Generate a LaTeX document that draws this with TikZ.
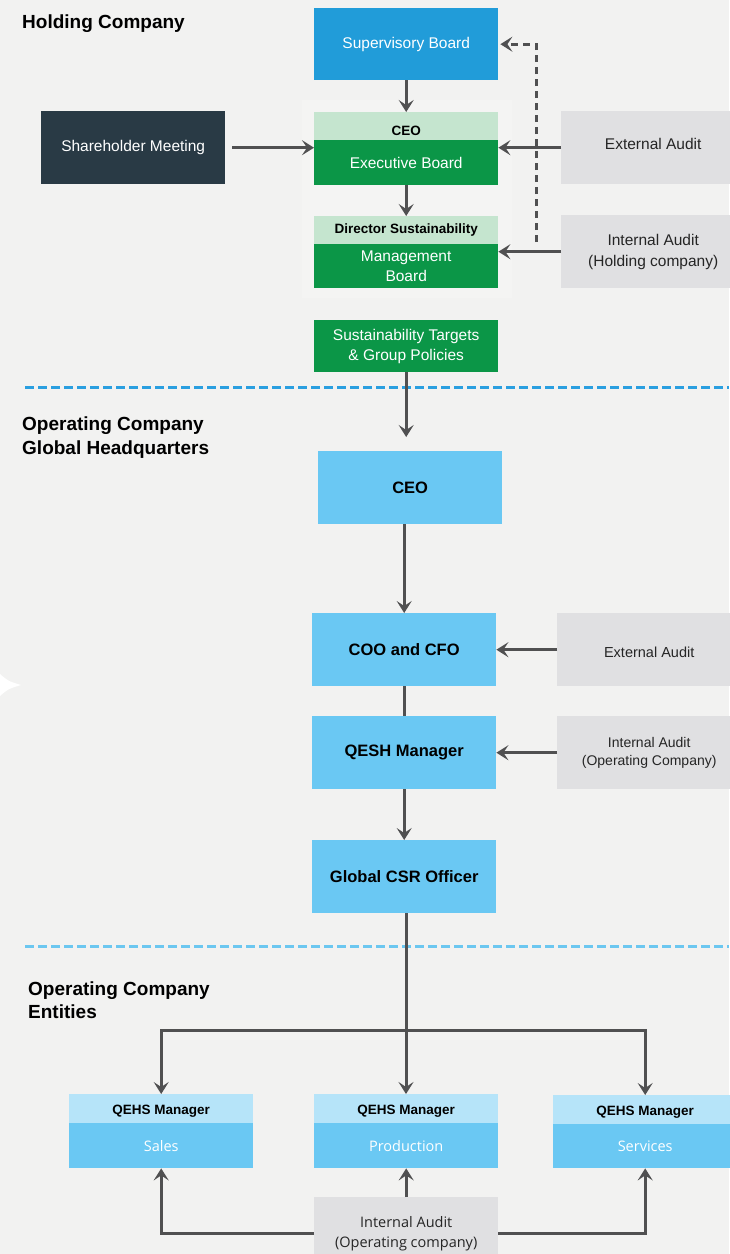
\documentclass[tikz,border=0pt]{standalone}
\usepackage{fontspec}
\setmainfont{Liberation Sans}
\newfontfamily\hum{Open Sans}
\usetikzlibrary{arrows.meta}
\definecolor{bg}{HTML}{F2F2F1}
\definecolor{panel}{HTML}{F4F4F3}
\definecolor{sbblue}{HTML}{219CD9}
\definecolor{dgreen}{HTML}{0B9647}
\definecolor{lgreen}{HTML}{C5E5CF}
\definecolor{navy}{HTML}{293A45}
\definecolor{gbox}{HTML}{E0E0E2}
\definecolor{gtext}{HTML}{252525}
\definecolor{lblue}{HTML}{6AC8F3}
\definecolor{pblue}{HTML}{B6E4F9}
\definecolor{arrgray}{HTML}{505051}
\definecolor{sepA}{HTML}{2A9FE0}
\definecolor{sepB}{HTML}{6CC7F0}
\begin{document}
\begin{tikzpicture}[x=1pt,y=-1pt,
  box/.style={inner sep=0pt, anchor=north west, minimum width=184pt, align=center},
  fbody/.style={font=\fontsize{15.5}{20}\selectfont},
  fhead/.style={font=\bfseries\fontsize{13.5}{16}\selectfont},
  fbig/.style={font=\bfseries\fontsize{16.5}{20}\selectfont},
  fgray/.style={font=\fontsize{14.5}{18}\selectfont},
  fhum/.style={font=\hum\fontsize{14.5}{20}\selectfont},
  ftitle/.style={font=\bfseries\fontsize{19}{23}\selectfont, inner sep=0pt, anchor=base west},
  cline/.style={draw=arrgray, line width=3pt},
  arr/.style={cline, -{Stealth[length=12pt,width=15pt,inset=5pt]}},
  dline/.style={draw=arrgray, line width=3pt, dash pattern=on 7pt off 5pt, -{Stealth[length=12pt,width=15pt,inset=5pt]}},
  sepline/.style={line width=3pt, dash pattern=on 9pt off 4pt}
]
\useasboundingbox (0,0) rectangle (729,1254);
\fill[bg] (0,0) rectangle (729,1254);
\fill[panel] (302,100) rectangle (512,298);

% section titles
\node[ftitle] (t1) at (22,28) {Holding Company};
\node[ftitle] (t2a) at (22,430) {Operating Company};
\node[ftitle] (t2b) at (22,454) {Global Headquarters};
\node[ftitle] (t3a) at (28,995) {Operating Company};
\node[ftitle] (t3b) at (28,1018) {Entities};

% separators
\draw[sepline, draw=sepA] (25,387) -- (729,387);
\draw[sepline, draw=sepB] (25,946) -- (729,946);

% holding company
\node[box, fill=sbblue, minimum height=72pt, text=white, fbody] (sb) at (314,8) {Supervisory Board};
\node[box, fill=lgreen, minimum height=28pt, fhead, text height=19pt] (ceoH) at (314,112) {CEO};
\node[box, fill=dgreen, minimum height=45pt, text=white, fbody] (exec) at (314,140) {Executive Board};
\node[box, fill=lgreen, minimum height=28pt, fhead] (dirH) at (314,216) {Director Sustainability};
\node[box, fill=dgreen, minimum height=44pt, text=white, fbody] (mgmt) at (314,244) {Management\\Board};
\node[box, fill=navy, minimum height=73pt, text=white, fbody] (sh) at (41,111) {Shareholder Meeting};
\node[box, fill=gbox, minimum height=73pt, text=gtext, fbody, text depth=8pt] (ext1) at (561,111) {External Audit};
\node[box, fill=gbox, minimum height=73pt, text=gtext, fbody, font=\fontsize{15.5}{21}\selectfont] (int1) at (561,215) {Internal Audit\\(Holding company)};
\node[box, fill=dgreen, minimum height=52pt, text=white, fbody] (sust) at (314,320) {Sustainability Targets\\\& Group Policies};

% operating company HQ
\node[box, fill=lblue, minimum height=73pt, fbig] (ceo2) at (318,451) {CEO};
\node[box, fill=lblue, minimum height=73pt, fbig] (coo) at (312,613) {COO and CFO};
\node[box, fill=gbox, minimum height=73pt, text=gtext, fgray, text height=16.5pt] (ext2) at (557,613) {External Audit};
\node[box, fill=lblue, minimum height=73pt, fbig] (qesh) at (312,716) {QESH Manager};
\node[box, fill=gbox, minimum height=73pt, text=gtext, font=\fontsize{14}{18}\selectfont] (int2) at (557,716) {Internal Audit\\(Operating Company)};
\node[box, fill=lblue, minimum height=73pt, fbig] (csr) at (312,840) {Global CSR Officer};

% entities
\node[box, fill=pblue, minimum height=29pt, fhead, text height=13.7pt] (salesH) at (69,1094) {QEHS Manager};
\node[box, fill=lblue, minimum height=45pt, text=white, fhum] (salesB) at (69,1123) {Sales};
\node[box, fill=pblue, minimum height=29pt, fhead, text height=13.7pt] (prodH) at (314,1094) {QEHS Manager};
\node[box, fill=lblue, minimum height=45pt, text=white, fhum] (prodB) at (314,1123) {Production};
\node[box, fill=pblue, minimum height=29pt, fhead, text height=13.7pt] (servH) at (553,1095) {QEHS Manager};
\node[box, fill=lblue, minimum height=44pt, text=white, fhum] (servB) at (553,1124) {Services};
\node[box, fill=gbox, minimum height=73pt, text=gtext, fhum] (iaop) at (314,1197) {Internal Audit\\(Operating company)};

% white marker
\fill[white] (0,674) .. controls (8,681) .. (21,685) .. controls (8,689) .. (0,696) -- cycle;

% connectors holding
\draw[arr] (sb) -- (ceoH);
\draw[arr] (exec) -- (dirH);
\draw[arr, shorten <=7pt] (sh.east) -- (sh.east -| exec.west);
\draw[arr] (ext1.west) -- (ext1.west -| exec.east);
\draw[arr] (int1.west) -- (int1.west -| mgmt.east);
\coordinate (dstart) at (536,242);
\draw[dline, shorten >=2pt] (dstart) |- (sb.east);
\draw[arr, shorten >=14pt] (sust.south) -- (sust.south |- ceo2.north);

% connectors HQ
\draw[arr] (ceo2.south -| coo.north) -- (coo.north);
\draw[cline] (coo) -- (qesh);
\draw[arr] (ext2.west) -- (ext2.west -| coo.east);
\draw[arr] (int2.west) -- (int2.west -| qesh.east);
\draw[arr] (qesh) -- (csr);

% connectors entities
\coordinate (hub) at (406,1030);
\draw[cline] (csr.south -| hub) -- (hub);
\draw[arr] (hub) -- (prodH.north -| hub);
\draw[arr] (hub) -| (salesH.north);
\draw[arr] (hub) -| (servH.north);
\draw[arr] (iaop.north) -- (prodB.south);
\draw[arr] (iaop.west) -| (salesB.south);
\draw[arr] (iaop.east) -| (servB.south);
\end{tikzpicture}
\end{document}
